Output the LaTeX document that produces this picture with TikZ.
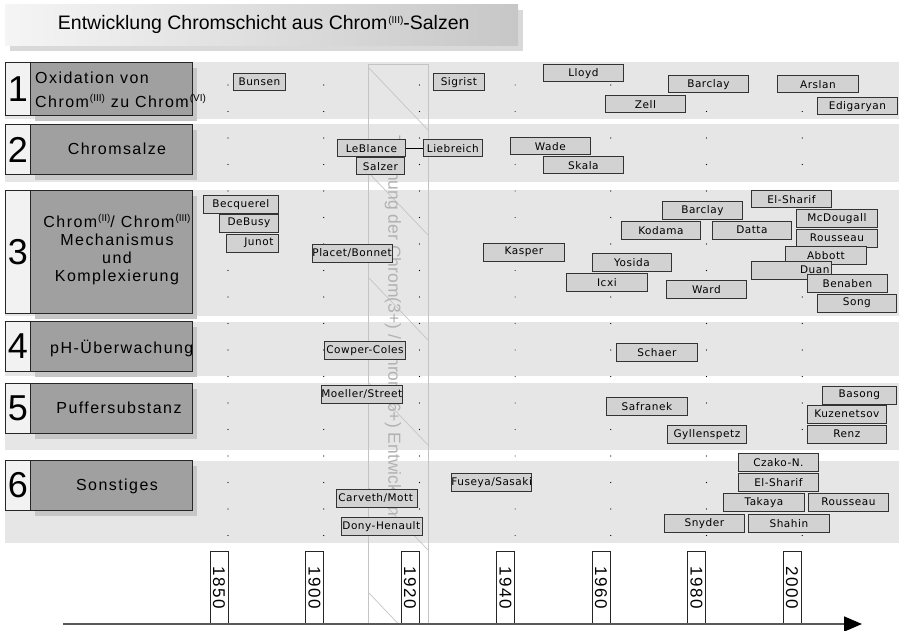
\documentclass[tikz,border=0pt]{standalone}
\usepackage{fontspec}
\setmainfont{Liberation Sans}
\newfontfamily\namefont[LetterSpace=5]{DejaVu Sans}
\newfontfamily\rowfont[LetterSpace=9]{Liberation Sans}
\newfontfamily\yearfont[LetterSpace=8]{Liberation Sans}
\usetikzlibrary{shadows,arrows.meta}

\definecolor{bandgray}{HTML}{E6E6E6}
\definecolor{labelgray}{HTML}{A0A0A0}
\definecolor{shadowgray}{HTML}{C6C6C6}
\definecolor{namegray}{HTML}{D2D2D2}
\definecolor{numwhite}{HTML}{F2F2F2}
\definecolor{sepgray}{HTML}{C4C4C4}

\tikzset{
  namebox/.style={draw=black!80, line width=0.8pt, fill=namegray, inner sep=0pt,
    minimum height=17.5pt, anchor=north west, font=\namefont\fontsize{10.5}{12}\selectfont},
  rowbox/.style={draw=black!85, line width=0.9pt, fill=labelgray, inner sep=0pt, anchor=north west,
    minimum width=162pt, drop shadow={shadow xshift=5pt, shadow yshift=-6pt, fill=shadowgray, opacity=1}},
  numbox/.style={draw=black!85, line width=0.9pt, fill=numwhite, inner sep=0pt, anchor=north west,
    minimum width=25pt, font=\fontsize{36}{36}\selectfont},
  rowtext/.style={inner sep=0pt, font=\rowfont\fontsize{16}{18}\selectfont, align=center},
  yearbox/.style={draw=black!85, line width=0.8pt, fill=white, inner sep=0pt, minimum width=18pt,
    minimum height=72pt, anchor=south, font=\yearfont\fontsize{17}{17}\selectfont},
}
\newcommand\ox[1]{\kern1pt\raisebox{6pt}{\normalfont\fontsize{10}{10}\selectfont(#1)}}
% name box: [alignment]{name}{north west corner}{width}{text}
\newcommand\nbox[5][c]{\node[namebox, minimum width=#4pt] (#2) at (#3) {\makebox[#4pt][#1]{#5}};}

\begin{document}
\begin{tikzpicture}[x=1pt,y=-1pt]
\useasboundingbox (0,0) rectangle (899,631);

% title
\node[anchor=north west, minimum width=513pt, minimum height=41pt, inner sep=0pt,
  left color=black!4, right color=black!22,
  drop shadow={shadow xshift=5pt, shadow yshift=-6pt, fill=black!15, opacity=1},
  font=\fontsize{19.5}{22}\selectfont] (title) at (5,4)
  {\hspace*{4pt}Entwicklung Chromschicht aus Chrom\ox{III}-Salzen};

% rows
\fill[bandgray] (5,62) rectangle (899,119);
\fill[bandgray] (5,124) rectangle (899,182);
\fill[bandgray] (5,190) rectangle (899,316);
\fill[bandgray] (5,322) rectangle (899,376);
\fill[bandgray] (5,383) rectangle (899,450);
\fill[bandgray] (5,461) rectangle (899,543);

% grid of dots
\foreach \j in {0,...,6}
  \foreach \k in {0,...,17}
    \fill ({228+95.7*\j},{85+26.5*\k}) circle (0.6pt);

% separating column
\node[draw=sepgray, line width=0.8pt, anchor=north west, inner sep=0pt,
  minimum width=60pt, minimum height=560pt] (sep) at (368,64) {};
\begin{scope}
  \clip (sep.north west) rectangle (sep.south east);
  \foreach \h in {67,172,...,600}
    \draw[sepgray, line width=0.7pt] (368,\h) -- (428,{\h+63});
\end{scope}
\node[rotate=-90, text=black!30, font=\fontsize{17.5}{17.5}\selectfont] (septext) at (393,331)
  {Trennung der Chrom(3+) / Chrom(6+) Entwicklung};

% row labels
\node[numbox, minimum height=53pt] (n1) at (5,62) {1};
\node[rowbox, minimum height=53pt] (r1) at (30,62) {};
\node[rowtext, anchor=west, align=left, font=\rowfont\fontsize{16}{24}\selectfont] (t1) at (35,90)
  {Oxidation von\\Chrom\ox{III} zu Chrom\ox{VI}};

\node[numbox, minimum height=50pt] (n2) at (5,124) {2};
\node[rowbox, minimum height=50pt] (r2) at (30,124) {};
\node[rowtext] (t2) at (117,149) {Chromsalze};

\node[numbox, minimum height=123pt] (n3) at (5,190) {3};
\node[rowbox, minimum height=123pt] (r3) at (30,190) {};
\node[rowtext] (t3) at (117,250) {Chrom\ox{II}/ Chrom\ox{III}\\Mechanismus\\und\\Komplexierung};

\node[numbox, minimum height=50pt] (n4) at (5,321) {4};
\node[rowbox, minimum height=50pt] (r4) at (30,321) {};
\node[rowtext, anchor=west] (t4) at (50,348) {pH-Überwachung};

\node[numbox, minimum height=50pt] (n5) at (5,383) {5};
\node[rowbox, minimum height=50pt] (r5) at (30,383) {};
\node[rowtext] (t5) at (119,408) {Puffersubstanz};

\node[numbox, minimum height=50pt] (n6) at (5,460) {6};
\node[rowbox, minimum height=50pt] (r6) at (30,460) {};
\node[rowtext] (t6) at (117,486) {Sonstiges};

% 1: Oxidation
\nbox{bunsen}{233,73}{52}{Bunsen}
\nbox{sigrist}{433,73}{51}{Sigrist}
\nbox{lloyd}{543,64}{80}{Lloyd}
\nbox{zell}{605,95}{80}{Zell}
\nbox{barclayA}{668,75}{80}{Barclay}
\nbox{arslan}{777,75}{81}{Arslan}
\nbox{edigaryan}{817,97}{80}{Edigaryan}

% 2: Chromsalze
\nbox{leblance}{337,139}{68}{LeBlance}
\nbox{liebreich}{423,139}{59}{Liebreich}
\nbox{salzer}{356,157}{48}{Salzer}
\nbox{wade}{510,137}{80}{Wade}
\nbox{skala}{543,156}{80}{Skala}
\draw[line width=0.8pt] (leblance) -- (liebreich);

% 3: Mechanismus
\nbox{becquerel}{203,195}{75}{Becquerel}
\nbox{debusy}{219,214}{59}{DeBusy}
\nbox[r]{junot}{226,234}{52}{Junot\hspace{5pt}}
\nbox[l]{placet}{312,244}{80}{Placet/Bonnet}
\nbox{kasper}{483,243}{81}{Kasper}
\nbox{barclayB}{662,201}{80}{Barclay}
\nbox{kodama}{621,221}{79}{Kodama}
\nbox{datta}{712,221}{79}{Datta}
\nbox{yosida}{592,253}{79}{Yosida}
\nbox{icxi}{566,273}{81}{Icxi}
\nbox{ward}{666,280}{80}{Ward}
\nbox{elsharifA}{751,190}{80}{El-Sharif}
\nbox{mcdougall}{796,209}{81}{McDougall}
\nbox{rousseauA}{796,229}{81}{Rousseau}
\nbox{abbott}{785,246}{81}{Abbott}
\nbox[r]{duan}{751,261}{80}{Duan\hspace{2pt}}
\nbox{benaben}{807,274}{80}{Benaben}
\nbox{song}{817,294}{79}{Song}

% 4: pH
\nbox[l]{cowper}{324,341}{81}{\hspace{2pt}Cowper-Coles}
\nbox{schaer}{616,343}{81}{Schaer}

% 5: Puffer
\nbox[l]{moeller}{321,385}{81}{Moeller/Street}
\nbox{safranek}{606,397}{81}{Safranek}
\nbox{gyllenspetz}{667,425}{79}{Gyllenspetz}
\nbox{basong}{822,386}{74}{Basong}
\nbox{kuzenetsov}{807,405}{79}{Kuzenetsov}
\nbox{renz}{807,425}{79}{Renz}

% 6: Sonstiges
\nbox[l]{carveth}{336,489}{81}{\hspace{2pt}Carveth/Mott}
\nbox[l]{dony}{341,517}{81}{\hspace{1pt}Dony-Henault}
\nbox[l]{fuseya}{451,473}{80}{Fuseya/Sasaki}
\nbox{czako}{738,453}{80}{Czako-N.}
\nbox{elsharifB}{738,473}{80}{El-Sharif}
\nbox{takaya}{723,493}{81}{Takaya}
\nbox{rousseauB}{808,493}{80}{Rousseau}
\nbox{snyder}{664,514}{80}{Snyder}
\nbox{shahin}{748,514}{81}{Shahin}

% time axis
\foreach \yr [count=\i from 0] in {1850,1900,1920,1940,1960,1980,2000}
  \node[yearbox] (y\yr) at ({219+95.5*\i},624) {\rotatebox{-90}{\yr}};
\coordinate (axstart) at (63,624);
\coordinate (axend) at (862,624);
\draw[line width=1.6pt, black!65, -{Triangle[length=18pt,width=15pt,fill=black,color=black]}] (axstart) -- (axend);
\end{tikzpicture}
\end{document}
